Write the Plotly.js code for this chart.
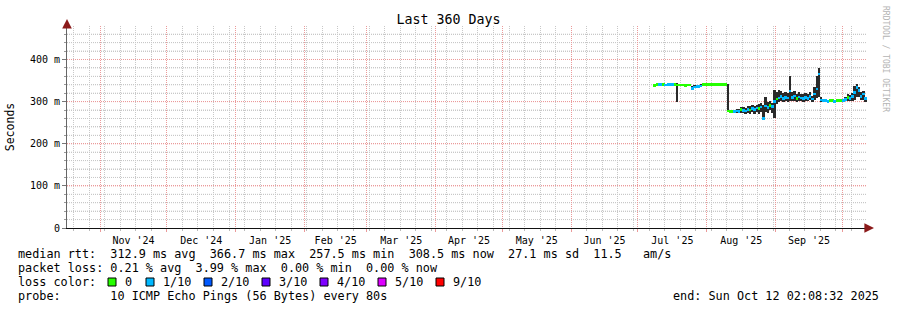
<!DOCTYPE html>
<html><head><meta charset="utf-8">
<script src="https://cdn.plot.ly/plotly-3.0.1.min.js"></script>
<style>html,body{margin:0;padding:0;background:#fff;} #chart{width:897px;height:310px;}</style>
</head><body><div id="chart"></div>
<script>
const dates = [
'2025-07-08','2025-07-09','2025-07-10','2025-07-11','2025-07-12','2025-07-13','2025-07-14','2025-07-15','2025-07-16','2025-07-17',
'2025-07-18','2025-07-19','2025-07-20','2025-07-21','2025-07-22','2025-07-23','2025-07-24','2025-07-25','2025-07-26','2025-07-27',
'2025-07-28','2025-07-29','2025-07-30','2025-07-31','2025-08-01','2025-08-02','2025-08-03','2025-08-04','2025-08-05','2025-08-06',
'2025-08-07','2025-08-08','2025-08-09','2025-08-10','2025-08-11','2025-08-12','2025-08-13','2025-08-14','2025-08-15','2025-08-16',
'2025-08-17','2025-08-18','2025-08-19','2025-08-20','2025-08-21','2025-08-22','2025-08-23','2025-08-24','2025-08-25','2025-08-26',
'2025-08-27','2025-08-28','2025-08-29','2025-08-30','2025-08-31','2025-09-01','2025-09-02','2025-09-03','2025-09-04','2025-09-05',
'2025-09-06','2025-09-07','2025-09-08','2025-09-09','2025-09-10','2025-09-11','2025-09-12','2025-09-13','2025-09-14','2025-09-15',
'2025-09-16','2025-09-17','2025-09-18','2025-09-19','2025-09-20','2025-09-21','2025-09-22','2025-09-23','2025-09-24','2025-09-25',
'2025-09-26','2025-09-27','2025-09-28','2025-09-29','2025-09-30','2025-10-01','2025-10-02','2025-10-03','2025-10-04','2025-10-05',
'2025-10-06','2025-10-07','2025-10-08','2025-10-09','2025-10-10','2025-10-11'];

// median RTT in ms
const median = [
338,340,340,341,340,339,340,340,341,340,
339,339,339,339,338,339,339,331,335,336,
336,337,341,341,341,341,341,341,341,341,
341,341,341,278,276,277,276,278,277,281,
279,278,282,280,284,281,285,283,287,260,
290,286,291,288,300,306,309,312,308,310,
309,325,310,313,308,311,309,307,310,308,
312,306,318,330,366,304,302,302,301,302,
302,301,302,302,302,302,305,310,307,312,
322,333,326,312,318,308];

const smokeLo = [
337,339,339,340,339,338,339,339,340,339,
298,338,338,338,337,338,338,327,334,335,
335,336,340,340,340,340,340,340,340,340,
340,340,340,276,274,275,273,274,272,274,
272,271,274,270,276,271,275,270,276,257,
275,272,280,274,262,295,300,301,299,301,
300,302,301,302,300,302,301,300,302,301,
303,300,305,308,310,300,300,300,299,300,
300,299,300,300,300,300,301,302,301,302,
305,312,310,303,305,300];

const smokeHi = [
342,344,344,345,344,343,344,344,345,344,
344,343,343,343,342,343,343,336,339,340,
340,341,345,345,345,345,345,345,345,345,
345,345,345,341,279,280,281,283,282,288,
287,284,290,289,292,290,293,295,297,292,
312,298,301,296,328,322,327,325,321,323,
320,361,322,325,318,322,319,317,321,318,
324,314,335,360,379,310,304,304,304,304,
304,304,304,304,304,304,312,318,316,320,
338,342,335,322,325,312];

// lost pings (of 10) per sample
const loss = [
0,0,1,1,0,1,1,1,1,0,
0,0,0,0,0,0,0,1,1,1,
1,1,0,0,0,0,0,0,0,0,
0,0,0,0,0,0,1,1,1,0,
1,1,1,0,1,1,1,0,1,1,
1,1,0,1,1,0,1,1,1,1,
1,1,1,1,0,1,1,1,1,1,
1,1,1,1,1,1,1,1,1,0,
0,1,0,0,0,1,1,0,1,1,
1,1,1,1,1,1];

const lossLevels = [0,1,2,3,4,5,9];
const lossLabels = ['0','1/10','2/10','3/10','4/10','5/10','9/10'];
const lossColors = ['#26ff00','#00b8ff','#0059ff','#5e00ff','#7e00ff','#dd00ff','#ff0000'];

const yTickVals = [0,100,200,300,400];
const yTickText = ['0','100 m','200 m','300 m','400 m'];
const rttStats = ['312.9','366.7','257.5','308.5','27.1','11.5'];
const lossStats = ['0.21','3.99','0.00','0.00'];
const probeText = '10 ICMP Echo Pings (56 Bytes) every 80s';
const endText = 'Sun Oct 12 02:08:32 2025';
const titleText = 'Last 360 Days';
const xStart = '2024-10-17 02:08:32', xEnd = '2025-10-12 02:08:32';

// ---- layout geometry (pixels) ----
const L = 67, T = 26, W = 800, H = 202, FW = 897, FH = 310;
const YMAX = 479.5, YMINOR = 20;
const px = x => (x - L) / W;
const py = y => (T + H - y) / H;
const nb = s => s.replace(/ /g, '\u00a0');
const FONT = 'DejaVu Sans Mono';
const DAY = 86400000;
const strip = 2.6 * YMAX / H;   // median strip thickness (2.6 px) in data units

const barCommon = {type: 'bar', x: dates, width: DAY * 1.08, xperiod: DAY, xperiodalignment: 'middle',
  hoverinfo: 'skip', showlegend: false};
const traces = [
  Object.assign({}, barCommon, {base: smokeLo, y: smokeHi.map((h, i) => h - smokeLo[i]),
    marker: {color: '#2a2a2a', line: {width: 0}}})
];
lossLevels.forEach((lvl, k) => {
  const idx = median.map((v, i) => i).filter(i => loss[i] === lvl);
  if (idx.length) {
    traces.push(Object.assign({}, barCommon, {
      x: idx.map(i => dates[i]), base: idx.map(i => median[i] - strip / 2), y: idx.map(() => strip),
      marker: {color: lossColors[k], line: {width: 0}}, name: lossLabels[k]}));
  }
});

const rowY = [254, 268, 282, 296];
const rows = [
  'median rtt:  ' + rttStats[0] + ' ms avg  ' + rttStats[1] + ' ms max  ' + rttStats[2] + ' ms min  ' + rttStats[3] + ' ms now  ' + rttStats[4] + ' ms sd  ' + rttStats[5] + '   am/s',
  'packet loss: ' + lossStats[0] + ' % avg  ' + lossStats[1] + ' % max  ' + lossStats[2] + ' % min  ' + lossStats[3] + ' % now',
  'loss color:',
  'probe:       ' + probeText
];
const txtFont = {family: FONT, size: 11.8, color: '#000'};
const annotations = rows.map((t, i) => ({
  xref: 'paper', yref: 'paper', x: px(16), y: py(rowY[i]), xanchor: 'left', yanchor: 'middle',
  text: nb(t), showarrow: false, font: txtFont
}));
annotations.push({xref: 'paper', yref: 'paper', x: px(881), y: py(rowY[3]), xanchor: 'right', yanchor: 'middle',
  text: nb('end: ' + endText), showarrow: false, font: txtFont});

const minorGrid = '#c8c8c8', majorGrid = '#eb9a9a', dotted = '1px,1px';

const boxX = [108, 146, 204, 262, 320, 378, 436];
const shapes = [];
// horizontal grid (drawn as layout lines so it always shows)
for (let v = YMINOR; v < YMAX; v += YMINOR) {
  const major = yTickVals.indexOf(v) >= 0;
  shapes.push({type: 'line', layer: 'below', xref: 'paper', x0: 0, x1: 1, yref: 'y', y0: v, y1: v,
    line: {color: major ? majorGrid : minorGrid, width: 1, dash: dotted}});
}
lossLevels.forEach((lvl, k) => {
  shapes.push({type: 'rect', xref: 'paper', yref: 'paper', x0: px(boxX[k]), x1: px(boxX[k] + 8), y0: py(286), y1: py(278),
    fillcolor: lossColors[k], line: {color: '#000', width: 1}});
  annotations.push({xref: 'paper', yref: 'paper', x: px(boxX[k] + 15), y: py(rowY[2]), xanchor: 'left', yanchor: 'middle',
    text: nb(lossLabels[k]), showarrow: false, font: txtFont});
});

// side credit
annotations.push({xref: 'paper', yref: 'paper', x: px(886), y: py(59), xanchor: 'center', yanchor: 'middle',
  text: nb('RRDTOOL / TOBI OETIKER'), textangle: 90, showarrow: false, font: {family: FONT, size: 8, color: '#b4b4b4'}});
// axis arrows
annotations.push({xref: 'paper', yref: 'paper', x: 0, y: py(19), ax: 0, ay: 7, text: '', showarrow: true,
  arrowhead: 2, arrowsize: 1.6, arrowwidth: 1.2, arrowcolor: '#8b1a1a'});
annotations.push({xref: 'paper', yref: 'paper', x: px(874), y: 0, ax: -7, ay: 0, text: '', showarrow: true,
  arrowhead: 2, arrowsize: 1.6, arrowwidth: 1.2, arrowcolor: '#8b1a1a'});

const layout = {
  width: FW, height: FH,
  margin: {l: L, r: FW - L - W, t: T, b: FH - T - H, pad: 0},
  paper_bgcolor: '#fff', plot_bgcolor: '#fff',
  font: {family: FONT, size: 10, color: '#000'},
  title: {text: titleText, font: {family: FONT, size: 13.3, color: '#000'}, xref: 'container', x: 0.5, xanchor: 'center', yref: 'container', y: 1 - 19/FH, yanchor: 'middle'},
  showlegend: false,
  barmode: 'overlay', bargap: 0,
  xaxis: {
    type: 'date', range: [xStart, xEnd], fixedrange: true,
    dtick: 'M1', tick0: '2024-11-01', tickformat: "%b '%y", ticklabelmode: 'period',
    showgrid: true, gridcolor: majorGrid, griddash: dotted, gridwidth: 1,
    ticks: 'outside', ticklen: 3, tickcolor: majorGrid,
    showline: true, linecolor: '#111', linewidth: 1, zeroline: false,
    tickfont: {family: FONT, size: 10, color: '#000'},
    minor: {dtick: 7*DAY, tick0: '2024-10-20', showgrid: true, gridcolor: minorGrid, griddash: dotted, gridwidth: 1, ticks: 'outside', ticklen: 2, tickcolor: '#bbb'}
  },
  yaxis: {
    range: [0, YMAX], fixedrange: true,
    tickmode: 'array', tickvals: yTickVals, ticktext: yTickText,
    showgrid: true, gridcolor: majorGrid, griddash: dotted, gridwidth: 1,
    ticks: 'outside', ticklen: 4, tickcolor: '#777',
    showline: true, linecolor: '#666', linewidth: 1, zeroline: false,
    tickfont: {family: FONT, size: 10, color: '#000'},
    title: {text: 'Seconds', font: {family: FONT, size: 11.5, color: '#000'}, standoff: 12},
    minor: {tickmode: 'linear', dtick: YMINOR, tick0: 0, showgrid: true, gridcolor: minorGrid, griddash: dotted, gridwidth: 1, ticks: 'outside', ticklen: 2, tickcolor: '#999'}
  },
  shapes: shapes,
  annotations: annotations
};

Plotly.newPlot('chart', traces, layout, {displayModeBar: false, staticPlot: true});
</script>
</body></html>
